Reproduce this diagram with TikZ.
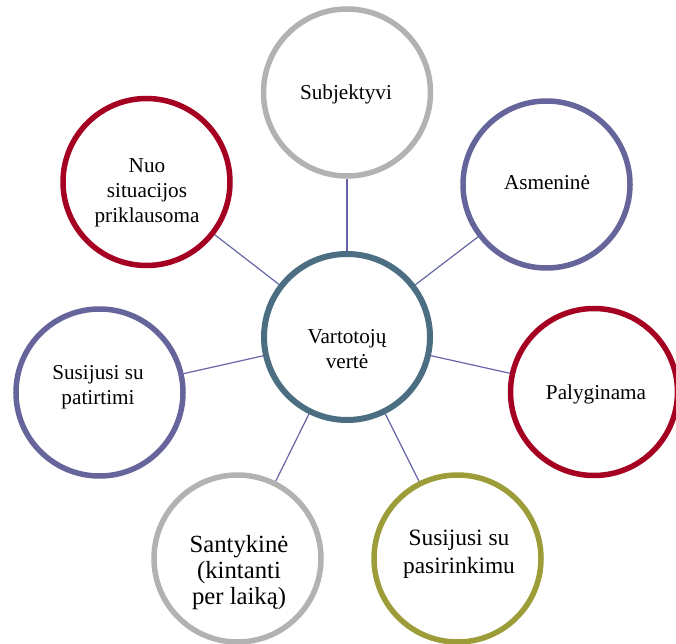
\documentclass[tikz,border=0pt]{standalone}
\usepackage{fontspec}
\setmainfont{Liberation Serif}
\definecolor{ringgray}{HTML}{B2B2B2}
\definecolor{ringpurple}{HTML}{65659B}
\definecolor{ringred}{HTML}{A50021}
\definecolor{ringolive}{HTML}{9C9C38}
\definecolor{ringteal}{HTML}{4C6E82}
\definecolor{linkc}{HTML}{6666A6}
\begin{document}
\begin{tikzpicture}[x=1pt,y=1pt,
  ring/.style={circle, draw=#1, line width=5.5pt, minimum size=167pt, inner sep=0pt, fill=white},
  lbl/.style={align=center, font=\fontsize{21.2}{25}\selectfont, text=black, inner sep=0pt},
  link/.style={draw=linkc, line width=1.2pt}]
\useasboundingbox (0,0) rectangle (676,643);
\clip (0,0) rectangle (676,643);
% circles
\node[ring=ringteal, line width=6pt, minimum size=166pt] (c0) at (347,306) {};
\node[ring=ringgray]   (c1) at (347,550.5) {};
\node[ring=ringpurple] (c2) at (546.5,458.5) {};
\node[ring=ringred]    (c3) at (594,251) {};
\node[ring=ringolive]  (c4) at (457.5,84.5) {};
\node[ring=ringgray]   (c5) at (237.5,84.5) {};
\node[ring=ringpurple] (c6) at (99.5,250.5) {};
\node[ring=ringred]    (c7) at (146.5,461) {};
% connectors
\foreach \k in {1,...,7} {\draw[link] (c0) -- (c\k);}
% labels
\node[lbl] (t0) at (347,292.5) {\strut Vartotojų\\\strut vertė};
\node[lbl] (t1) at (346,548) {\strut Subjektyvi};
\node[lbl] (t2) at (547,458) {\strut Asmeninė};
\node[lbl] (t3) at (596,249) {\strut Palyginama};
\node[lbl, font=\fontsize{23.4}{28}\selectfont] (t4) at (459,89.6) {\strut Susijusi su\\\strut pasirinkimu};
\node[lbl, font=\fontsize{24.7}{26}\selectfont] (t5) at (239,70.2) {\strut Santykinė\\\strut (kintanti\\\strut per laiką)};
\node[lbl] (t6) at (98,256) {\strut Susijusi su\\\strut patirtimi};
\node[lbl] (t7) at (147,450) {\strut Nuo\\\strut situacijos\\\strut priklausoma};
\end{tikzpicture}
\end{document}
